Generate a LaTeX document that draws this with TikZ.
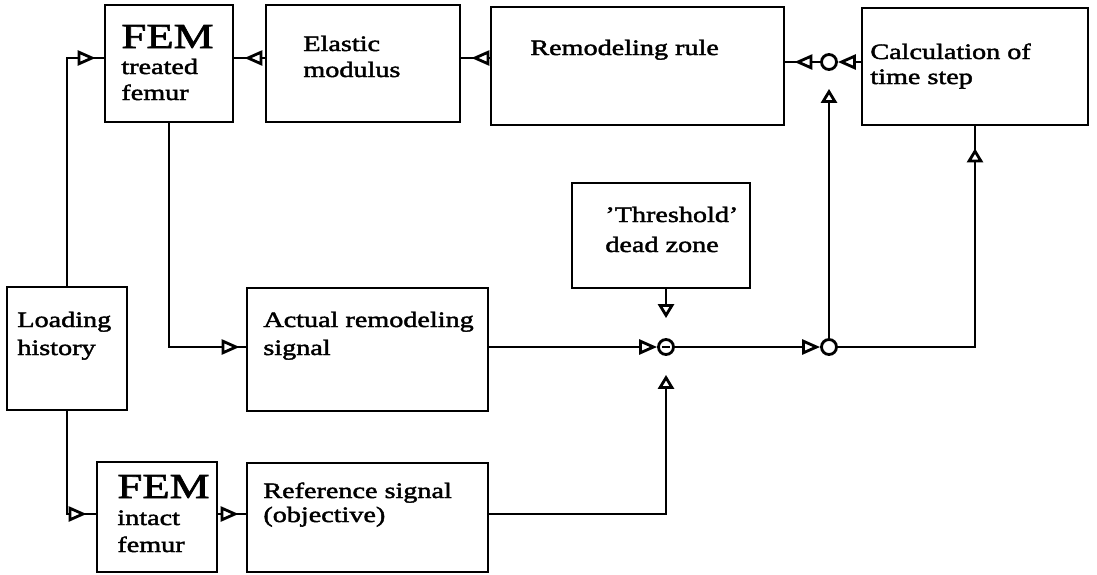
\documentclass[tikz,border=0pt]{standalone}
\usepackage{fontspec}
\setmainfont{Liberation Serif}[FakeStretch=1.28,FakeBold=2]
\usetikzlibrary{arrows.meta,decorations.markings}
\newcommand{\tbx}[2]{\parbox[t]{150pt}{\raggedright\fontsize{11pt}{#1}\selectfont\lineskiplimit=-100pt\relax #2}}
\newcommand{\femlabel}{{\fontsize{17.5pt}{13pt}\selectfont FEM}}
\begin{document}
\begin{tikzpicture}[x=0.5pt,y=-0.5pt,
  box/.style={draw,line width=1.4pt,rectangle,inner sep=0pt},
  circ/.style={draw,line width=1.4pt,circle,inner sep=0pt,minimum size=7.5pt},
  txt/.style={anchor=base west,inner sep=0pt},
  conn/.style={line width=1.4pt},
  htip/.style={-{Triangle[open,length=9pt,width=7.5pt]}},
  vtip/.style={-{Triangle[open,length=7pt,width=8pt]}},
  tipat/.style={postaction={decorate},decoration={markings,mark=at position #1 with {\arrow{Triangle[fill=white,length=9pt,width=7.5pt]}}}},
  vtipat/.style={postaction={decorate},decoration={markings,mark=at position #1 with {\arrow{Triangle[fill=white,length=7pt,width=8pt]}}}}
]
\path[use as bounding box] (0,0) rectangle (1097,574);
% boxes
\node[box,minimum width=64pt,minimum height=58.5pt] (fem1) at (169,63.5) {};
\node[box,minimum width=97pt,minimum height=58.5pt] (elastic) at (363,63.5) {};
\node[box,minimum width=146.5pt,minimum height=59pt] (remodel) at (637.5,66) {};
\node[box,minimum width=113pt,minimum height=58.5pt] (calc) at (975,66.5) {};
\node[box,minimum width=89pt,minimum height=52.5pt] (thr) at (661,235.5) {};
\node[box,minimum width=60pt,minimum height=61.5pt] (load) at (67,348.5) {};
\node[box,minimum width=120.5pt,minimum height=61.5pt] (actual) at (367.5,349.5) {};
\node[box,minimum width=60pt,minimum height=55pt] (fem2) at (157,517) {};
\node[box,minimum width=120.5pt,minimum height=54.5pt] (ref) at (367.5,517.5) {};
% summing circles
\node[circ] (c1) at (666,347) {};
\node[circ] (c2) at (829,347) {};
\node[circ] (c3) at (829,62) {};
% texts
\node[txt] (fem1t) at (121,48) {\tbx{13pt}{\femlabel\\treated\\femur}};
\node[txt] (fem2t) at (117,498) {\tbx{13.5pt}{\femlabel\\intact\\femur}};
\node[txt] (elastict) at (303,51) {\tbx{13pt}{Elastic\\modulus}};
\node[txt] (remodelt) at (530,55) {\tbx{13pt}{Remodeling rule}};
\node[txt] (calct) at (870,59) {\tbx{12.5pt}{Calculation of\\time step}};
\node[txt] (thrt) at (605,222) {\tbx{15pt}{'Threshold'\\dead zone}};
\node[txt] (loadt) at (17,327) {\tbx{14pt}{Loading\\history}};
\node[txt] (actualt) at (263,327) {\tbx{14pt}{Actual remodeling\\signal}};
\node[txt] (reft) at (263,498) {\tbx{12pt}{Reference signal\\(objective)}};
% levels
\coordinate (ytop) at (0,58);
\coordinate (ybot) at (0,514);
% connectors
\draw[conn,tipat=-4pt] (load.north) |- (fem1.west |- ytop);
\draw[conn,tipat=-5pt] (elastic.west |- ytop) -- (fem1.east |- ytop);
\draw[conn,tipat=-5pt] (remodel.west |- ytop) -- (elastic.east |- ytop);
\draw[conn,tipat=-4.5pt] (c3.west) -- (remodel.east |- c3);
\draw[conn,htip] (calc.west |- c3) -- (c3.east);
\draw[conn,vtip,shorten >=9pt] (c2.north) -- (c3.south);
\draw[conn,tipat=-3pt] (fem1.south) |- (actual.west |- c1);
\draw[conn,htip] (actual.east |- c1) -- (c1.west);
\draw[conn,htip] (c1.east) -- (c2.west);
\draw[conn,vtipat=-11pt] (c2.east) -| (calc.south);
\draw[conn,vtip,shorten >=10pt] (c1 |- thr.south) -- (c1.north);
\draw[conn,tipat=-4.5pt] (load.south) |- (fem2.west |- ybot);
\draw[conn,tipat=-3.5pt] (fem2.east |- ybot) -- (ref.west |- ybot);
\draw[conn,vtip,shorten >=9.5pt] (ref.east |- ybot) -| (c1.south);
\draw[line width=1pt] ([xshift=-1.9pt]c1.center) -- ([xshift=1.9pt]c1.center);
\end{tikzpicture}
\end{document}
